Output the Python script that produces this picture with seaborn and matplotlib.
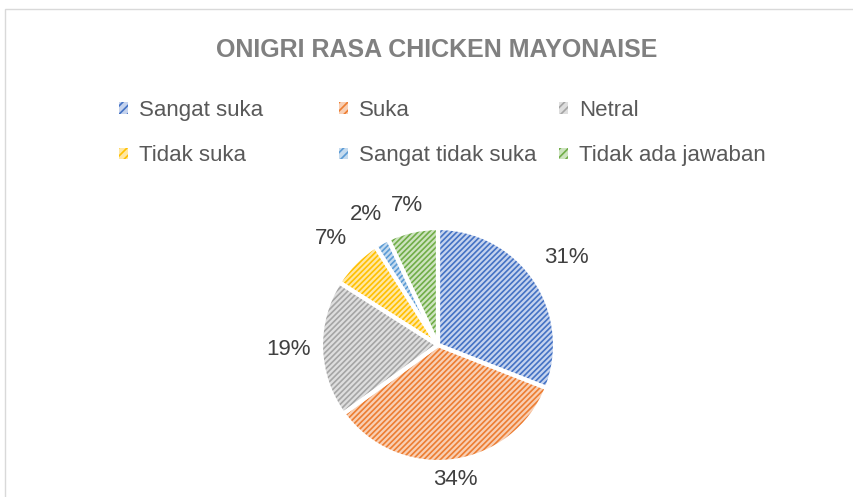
import matplotlib
matplotlib.use("Agg")
import matplotlib.pyplot as plt
from matplotlib.patches import Patch, Rectangle
import numpy as np
import seaborn as sns

# ---- data ----
categories = ["Sangat suka", "Suka", "Netral", "Tidak suka", "Sangat tidak suka", "Tidak ada jawaban"]
values = [31, 34, 19, 7, 2, 7]
line_colors = ["#4472C4", "#ED7D31", "#A5A5A5", "#FFC000", "#5B9BD5", "#70AD47"]
fill_colors = ["#C5D3EE", "#F8CFB4", "#DEDEDE", "#FFE7A3", "#C5DBEF", "#CDE3BF"]
title = "ONIGRI RASA CHICKEN MAYONAISE"
label_dist = [1.33, 1.16, 1.28, 1.29, 1.27, 1.22]

sns.set_theme(style="white")
plt.rcParams["font.family"] = ["Liberation Sans", "DejaVu Sans"]
plt.rcParams["hatch.linewidth"] = 1.2

W, H = 854, 497
fig = plt.figure(figsize=(W / 100, H / 100), dpi=100)
fig.patch.set_facecolor("white")

# chart border
fig.add_artist(Rectangle((5 / W, -0.1), 1.2, 1 - 9 / H + 0.1, transform=fig.transFigure,
                         fill=False, edgecolor="#D9D9D9", linewidth=1.0))

# pie axes
cx, cy, r = 438, 345, 117
ax = fig.add_axes([(cx - r) / W, (H - cy - r) / H, 2 * r / W, 2 * r / H])
ax.set_axis_off()

wedges, _ = ax.pie(values, startangle=90, counterclock=False, colors=fill_colors,
                   wedgeprops=dict(linewidth=0))
for w, lc in zip(wedges, line_colors):
    w.set_hatch("//////")
    w.set_edgecolor(lc)
    w.set_linewidth(0)

# white separators
ax.pie(values, startangle=90, counterclock=False, colors=["none"] * len(values),
       wedgeprops=dict(linewidth=3.0, edgecolor="white", fill=False))

# percentage labels
total = sum(values)
cum = 0
for v, d in zip(values, label_dist):
    mid = 90 - (cum + v / 2) / total * 360
    cum += v
    ang = np.deg2rad(mid)
    ax.text(d * np.cos(ang), d * np.sin(ang), f"{v / total * 100:.0f}%",
            ha="center", va="center", fontsize=16, color="#404040", clip_on=False)
ax.set_xlim(-1, 1)
ax.set_ylim(-1, 1)

# title
fig.text(437 / W, 1 - 50 / H, title, ha="center", va="center", fontsize=18,
         fontweight="bold", color="#808080")

# legend: three columns, row-major order
col_x = [119, 339, 559]
for c in range(3):
    idx = [c, c + 3]
    handles = [Patch(facecolor=fill_colors[i], edgecolor=line_colors[i], hatch="////",
                     linewidth=0) for i in idx]
    leg = fig.legend(handles, [categories[i] for i in idx], loc="upper left",
                     bbox_to_anchor=(col_x[c] / W, 1 - 100 / H), frameon=False,
                     fontsize=16, handlelength=0.42, handleheight=0.42,
                     handletextpad=0.5, labelspacing=1.1, borderpad=0,
                     borderaxespad=0)
    for t in leg.get_texts():
        t.set_color("#595959")

fig.savefig("out.png", dpi=100, facecolor="white")
